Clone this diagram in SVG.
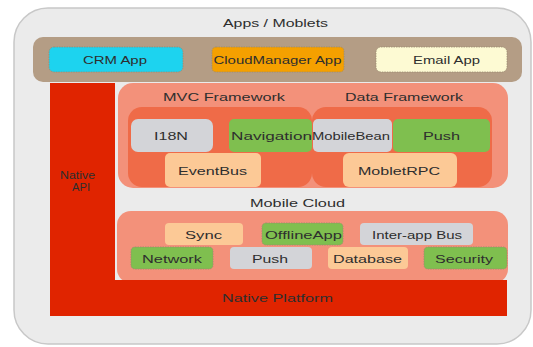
<svg xmlns="http://www.w3.org/2000/svg" width="533" height="347" viewBox="0 0 533 347">
  <style>
    text { font-family: "Liberation Sans", Arial, sans-serif; font-size: 11px; fill: #2e2e2e; text-anchor: middle; dominant-baseline: central; }
    .box { stroke: #9a8a70; stroke-width: 0.8; stroke-dasharray: 1.5 1; }
    .grey { fill: #d3d4d8; }
    .green { fill: #7fbf4f; }
    .peach { fill: #fcc996; }
    .salmon { fill: #f3917a; }
    .orange { fill: #ef6b48; }
    .red { fill: #e02400; }
  </style>

  <!-- outer panel -->
  <g id="panel">
    <rect x="14" y="8" width="517" height="336" rx="34" fill="#ebebeb" stroke="#c8c8c8" stroke-width="1.5"/>
    <text x="275.5" y="22.5" textLength="105" lengthAdjust="spacingAndGlyphs">Apps / Moblets</text>
  </g>

  <!-- application row -->
  <g id="apps">
    <rect x="33" y="37" width="489" height="45" rx="10" fill="#b49d85"/>
    <g id="crm-app">
      <rect class="box" x="49" y="47" width="134" height="25" rx="5" fill="#1dd3ef"/>
      <text x="115" y="59.5" textLength="64" lengthAdjust="spacingAndGlyphs">CRM App</text>
    </g>
    <g id="cloudmanager-app">
      <rect class="box" x="212" y="47" width="132" height="25" rx="4" fill="#f5a000"/>
      <text x="277.5" y="59.5" textLength="128" lengthAdjust="spacingAndGlyphs">CloudManager App</text>
    </g>
    <g id="email-app">
      <rect class="box" x="376" y="47" width="131" height="25" rx="5" fill="#fdfad3"/>
      <text x="446.5" y="59.5" textLength="67" lengthAdjust="spacingAndGlyphs">Email App</text>
    </g>
  </g>

  <!-- native API column -->
  <g id="native-api">
    <rect class="red" x="50" y="83" width="65" height="200"/>
    <text x="77.5" y="175" textLength="35" lengthAdjust="spacingAndGlyphs">Native</text>
    <text x="81" y="187" textLength="18" lengthAdjust="spacingAndGlyphs">API</text>
  </g>

  <!-- frameworks layer -->
  <g id="frameworks">
    <rect class="salmon" x="118" y="83" width="390" height="105" rx="15"/>
    <text x="224" y="97" textLength="122" lengthAdjust="spacingAndGlyphs">MVC Framework</text>
    <text x="404" y="97" textLength="118" lengthAdjust="spacingAndGlyphs">Data Framework</text>
    <g id="mvc-framework">
      <rect class="orange" x="128" y="107" width="184" height="80" rx="14"/>
      <g id="i18n">
        <rect class="grey" x="131" y="119" width="82" height="33" rx="7"/>
        <text x="171" y="135.5" textLength="34" lengthAdjust="spacingAndGlyphs">I18N</text>
      </g>
      <g id="navigation">
        <rect class="green" x="229" y="119" width="83" height="33" rx="5"/>
        <text x="271.5" y="135.5" textLength="81" lengthAdjust="spacingAndGlyphs">Navigation</text>
      </g>
      <g id="eventbus">
        <rect class="peach" x="165" y="153" width="96" height="34" rx="5"/>
        <text x="212.5" y="170.5" textLength="69" lengthAdjust="spacingAndGlyphs">EventBus</text>
      </g>
    </g>
    <g id="data-framework">
      <rect class="orange" x="312" y="107" width="180" height="80" rx="14"/>
      <g id="mobilebean">
        <rect class="grey" x="313" y="119" width="79" height="33" rx="5"/>
        <text x="351" y="135.5" textLength="78" lengthAdjust="spacingAndGlyphs">MobileBean</text>
      </g>
      <g id="push-data">
        <rect class="green" x="393" y="119" width="97" height="33" rx="5"/>
        <text x="441.5" y="135.5" textLength="37" lengthAdjust="spacingAndGlyphs">Push</text>
      </g>
      <g id="mobletrpc">
        <rect class="peach" x="343" y="153" width="114" height="34" rx="6"/>
        <text x="399" y="170.5" textLength="82" lengthAdjust="spacingAndGlyphs">MobletRPC</text>
      </g>
    </g>
  </g>

  <!-- mobile cloud layer -->
  <g id="mobile-cloud">
    <text x="297.5" y="203" textLength="95" lengthAdjust="spacingAndGlyphs">Mobile Cloud</text>
    <rect class="salmon" x="117" y="211" width="391" height="72" rx="14"/>
    <g id="sync">
      <rect class="peach" x="165" y="223" width="78" height="22" rx="4"/>
      <text x="203.5" y="234.5" textLength="37" lengthAdjust="spacingAndGlyphs">Sync</text>
    </g>
    <g id="offlineapp">
      <rect class="green box" x="262" y="223" width="81" height="22" rx="4"/>
      <text x="303.5" y="234.5" textLength="77" lengthAdjust="spacingAndGlyphs">OfflineApp</text>
    </g>
    <g id="inter-app-bus">
      <rect class="grey" x="360" y="223" width="113" height="22" rx="4"/>
      <text x="417" y="234.5" textLength="90" lengthAdjust="spacingAndGlyphs">Inter-app Bus</text>
    </g>
    <g id="network">
      <rect class="green box" x="131" y="247" width="82" height="22" rx="4"/>
      <text x="172" y="258.5" textLength="60" lengthAdjust="spacingAndGlyphs">Network</text>
    </g>
    <g id="push-cloud">
      <rect class="grey" x="230" y="247" width="82" height="22" rx="4"/>
      <text x="270" y="258.5" textLength="36" lengthAdjust="spacingAndGlyphs">Push</text>
    </g>
    <g id="database">
      <rect class="peach" x="328" y="247" width="80" height="22" rx="4"/>
      <text x="367.5" y="258.5" textLength="69" lengthAdjust="spacingAndGlyphs">Database</text>
    </g>
    <g id="security">
      <rect class="green box" x="424" y="247" width="83" height="22" rx="4"/>
      <text x="464" y="258.5" textLength="58" lengthAdjust="spacingAndGlyphs">Security</text>
    </g>
  </g>

  <!-- native platform base, over the cloud layer's lower edge -->
  <g id="native-platform">
    <rect class="red" x="50" y="280" width="457" height="36"/>
    <text x="277.5" y="298" textLength="111" lengthAdjust="spacingAndGlyphs">Native Platform</text>
  </g>
</svg>
